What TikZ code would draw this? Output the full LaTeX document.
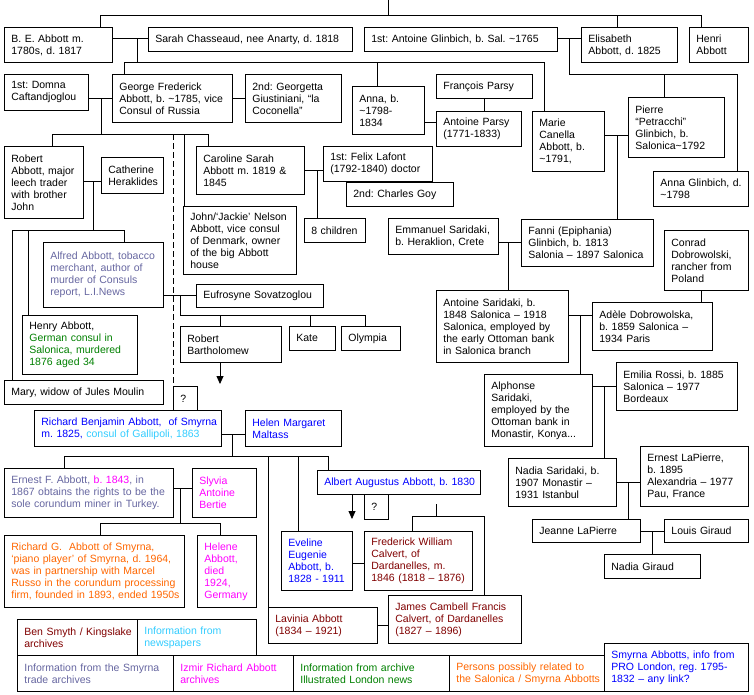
\documentclass[tikz,border=0pt]{standalone}
\usepackage{fontspec}
\setmainfont{Liberation Sans}
\usetikzlibrary{arrows.meta,positioning}

\definecolor{kingred}{RGB}{128,0,0}
\definecolor{newscyan}{RGB}{51,204,255}
\definecolor{tradegrey}{RGB}{102,102,160}
\definecolor{izmirpink}{RGB}{255,0,255}
\definecolor{londongreen}{RGB}{0,128,0}
\definecolor{relorange}{RGB}{255,102,0}
\definecolor{problue}{RGB}{0,0,255}

\tikzset{
  person/.style={draw, anchor=north west, align=left, inner sep=0pt,
    font=\fontsize{10.5}{12}\selectfont\frenchspacing,
    execute at begin node={\leftskip=6pt\relax}},
  boxsize/.style 2 args={minimum width=#1, minimum height=#2, text width=#1-2},
  lineage/.style={-{Triangle[width=7pt,length=8pt]}},
  unsure/.style={dash pattern=on 6pt off 3pt},
}

\begin{document}
\begin{tikzpicture}[x=1pt, y=-1pt, line width=0.8pt]
\useasboundingbox (0,0) rectangle (754,694);

% first generation
\node[person, boxsize={108}{35}] (beabbott) at (4,27) {B. E. Abbott m.\\1780s, d. 1817};
\node[person, boxsize={204}{24}] (sarah) at (148,27) {Sarah Chasseaud, nee Anarty, d. 1818};
\node[person, boxsize={193}{24}] (antglin) at (364,27) {1st: Antoine Glinbich, b. Sal. \textasciitilde1765};
\node[person, boxsize={96}{35}] (elisabeth) at (581,27) {Elisabeth\\Abbott, d. 1825};
\node[person, boxsize={59}{35}] (henri) at (689,27) {Henri\\Abbott};

% second generation
\node[person, boxsize={84}{36}] (domna) at (4,74) {1st: Domna\\Caftandjoglou};
\node[person, boxsize={120}{48}] (george) at (112,74) {George Frederick\\Abbott, b. \textasciitilde1785, vice\\Consul of Russia};
\node[person, boxsize={96}{48}] (georgetta) at (245,74) {2nd: Georgetta\\Giustiniani, “la\\Coconella”};
\node[person, boxsize={72}{48}] (anna) at (352,86) {Anna, b.\\\textasciitilde1798-\\1834};
\node[person, boxsize={96}{24}] (francois) at (436,74) {François Parsy};
\node[person, boxsize={85}{35}] (antparsy) at (436,111) {Antoine Parsy\\(1771-1833)};
\node[person, boxsize={72}{60}] (marie) at (532,111) {Marie\\Canella\\Abbott, b.\\\textasciitilde1791,};
\node[person, boxsize={96}{60}] (pierre) at (628,97) {Pierre\\“Petracchi”\\Glinbich, b.\\Salonica\textasciitilde1792};
\node[person, boxsize={95}{35}] (annaglin) at (653,171) {Anna Glinbich, d.\\\textasciitilde1798};

% third generation
\node[person, boxsize={79}{72}] (robert) at (4,146) {Robert\\Abbott, major\\leech trader\\with brother\\John};
\node[person, boxsize={62}{36}] (catherine) at (101,157) {Catherine\\Heraklides};
\node[person, boxsize={108}{48}] (caroline) at (196,146) {Caroline Sarah\\Abbott m. 1819 \&\\1845};
\node[person, boxsize={109}{35}] (felix) at (323,146) {1st: Felix Lafont\\(1792-1840) doctor};
\node[person, boxsize={107}{24}] (goy) at (346,182) {2nd: Charles Goy};
\node[person, boxsize={113}{68}] (john) at (183,206) {John/‘Jackie’ Nelson\\Abbott, vice consul\\of Denmark, owner\\of the big Abbott\\house};
\node[person, boxsize={61}{24}] (eightch) at (304,218) {8 children};
\node[person, boxsize={110}{36}] (emmanuel) at (388,218) {Emmanuel Saridaki,\\b. Heraklion, Crete};
\node[person, boxsize={132}{47}] (fanni) at (521,219) {Fanni (Epiphania)\\Glinbich, b. 1813\\Salonia – 1897 Salonica};
\node[person, boxsize={84}{60}] (conrad) at (664,230) {Conrad\\Dobrowolski,\\rancher from\\Poland};

% fourth generation
\node[person, boxsize={120}{65}, text=tradegrey] (alfred) at (43,242) {Alfred Abbott, tobacco\\merchant, author of\\murder of Consuls\\report, L.I.News};
\node[person, boxsize={127}{23}] (eufrosyne) at (196,284) {Eufrosyne Sovatzoglou};
\node[person, boxsize={132}{72}] (antsar) at (436,290) {Antoine Saridaki, b.\\1848 Salonica – 1918\\Salonica, employed by\\the early Ottoman bank\\in Salonica branch};
\node[person, boxsize={120}{48}] (adele) at (592,302) {Adèle Dobrowolska,\\b. 1859 Salonica –\\1934 Paris};
\node[person, boxsize={115}{59}] (henry) at (22,315) {Henry Abbott,\\\textcolor{londongreen}{German consul in}\\\textcolor{londongreen}{Salonica, murdered}\\\textcolor{londongreen}{1876 aged 34}};
\node[person, boxsize={101}{36}] (robbar) at (180,326) {Robert\\Bartholomew};
\node[person, boxsize={46}{24}] (kate) at (289,326) {Kate};
\node[person, boxsize={59}{24}] (olympia) at (341,326) {Olympia};
\node[person, boxsize={159}{24}] (mary) at (4,380) {Mary, widow of Jules Moulin};
\node[person, boxsize={24}{24}] (q1) at (173,386) {?};
\node[person, boxsize={108}{72}] (alphonse) at (484,374) {Alphonse\\Saridaki,\\employed by the\\Ottoman bank in\\Monastir, Konya...};
\node[person, boxsize={121}{48}] (emilia) at (616,362) {Emilia Rossi, b. 1885\\Salonica – 1977\\Bordeaux};

% fifth generation
\node[person, boxsize={187}{36}, text=problue] (richardb) at (34,410) {Richard Benjamin Abbott,\ \ of Smyrna\\m. 1825, \textcolor{newscyan}{consul of Gallipoli, 1863}};
\node[person, boxsize={96}{36}, text=problue] (helen) at (245,410) {Helen Margaret\\Maltass};
\node[person, boxsize={108}{48}] (nadia) at (508,458) {Nadia Saridaki, b.\\1907 Monastir –\\1931 Istanbul};
\node[person, boxsize={108}{60}] (ernestlp) at (640,446) {Ernest LaPierre,\\b. 1895\\Alexandria – 1977\\Pau, France};
\node[person, boxsize={169}{49}, text=tradegrey] (ernestf) at (4,468) {Ernest F. Abbott, \textcolor{izmirpink}{b. 1843}, in\\1867 obtains the rights to be the\\sole corundum miner in Turkey.};
\node[person, boxsize={64}{49}, text=izmirpink] (slyvia) at (192,468) {Slyvia\\Antoine\\Bertie};
\node[person, boxsize={163}{24}, text=problue] (albert) at (317,470) {Albert Augustus Abbott, b. 1830};
\node[person, boxsize={24}{25}] (q2) at (364,494) {?};
\node[person, boxsize={108}{23}] (jeanne) at (532,519) {Jeanne LaPierre};
\node[person, boxsize={84}{23}] (louis) at (664,519) {Louis Giraud};
\node[person, boxsize={180}{72}, text=relorange] (richardg) at (4,535) {Richard G.\ \ Abbott of Smyrna,\\‘piano player’ of Smyrna, d. 1964,\\was in partnership with Marcel\\Russo in the corundum processing\\firm, founded in 1893, ended 1950s};
\node[person, boxsize={59}{72}, text=izmirpink] (helene) at (197,535) {Helene\\Abbott,\\died\\1924,\\Germany};
\node[person, boxsize={71}{59}, text=problue] (eveline) at (281,531) {Eveline\\Eugenie\\Abbott, b.\\1828 - 1911};
\node[person, boxsize={108}{59}, text=kingred] (frederick) at (364,531) {Frederick William\\Calvert, of\\Dardanelles, m.\\1846 (1818 – 1876)};
\node[person, boxsize={96}{24}] (nadiag) at (604,554) {Nadia Giraud};
\node[person, boxsize={109}{36}, text=kingred] (lavinia) at (268,607) {Lavinia Abbott\\(1834 – 1921)};
\node[person, boxsize={133}{48}, text=kingred] (james) at (388,595) {James Cambell Francis\\Calvert, of Dardanelles\\(1827 – 1896)};

% legend
\node[person, boxsize={120}{36}, text=kingred] (legking) at (17,619) {Ben Smyth / Kingslake\\archives};
\node[person, boxsize={119}{36}, text=newscyan] (legnews) at (137,619) {Information from\\newspapers};
\node[person, boxsize={156}{36}, text=tradegrey] (legtrade) at (17,655) {Information from the Smyrna\\trade archives};
\node[person, boxsize={120}{36}, text=izmirpink] (legizmir) at (173,655) {Izmir Richard Abbott\\archives};
\node[person, boxsize={156}{36}, text=londongreen] (leglondon) at (293,655) {Information from archive\\Illustrated London news};
\node[person, boxsize={155}{36}, text=relorange] (legrelated) at (449,655) {Persons possibly related to\\the Salonica / Smyrna Abbotts};
\node[person, boxsize={144}{48}, text=problue] (legpro) at (604,643) {Smyrna Abbotts, info from\\PRO London, reg. 1795-\\1832 – any link?};

% free ends
\coordinate (parents) at (388,0);
\coordinate (bartdesc) at (220,384);
\coordinate (albertdesc) at (352,519);
\coordinate (calverts) at (436,504);

% Abbott line
\draw (parents) -- (388,15);
\draw (100,15 |- beabbott.north) |- (701,15) -- (701,15 |- henri.north);
\draw (617,15) -- (617,15 |- elisabeth.north);
\draw (beabbott.east |- 0,38) -- (sarah.west |- 0,38);
\draw (137,38) -- (137,62);
\draw (124,62 |- george.north) |- (544,62) -- (544,62 |- marie.north);
\draw (377,62) -- (377,62 |- anna.north);

% Glinbich line
\draw (antglin.east |- 0,38) -- (elisabeth.west |- 0,38);
\draw (569,38) |- (737,74) -- (737,74 |- annaglin.north);
\draw (664,74) -- (664,74 |- pierre.north);
\draw (marie.east |- 0,135) -- (pierre.west |- 0,135);
\draw (617,135) -- (617,135 |- fanni.north);

% George Frederick
\draw (domna.east |- 0,98) -- (george.west |- 0,98);
\draw (george.east |- 0,98) -- (georgetta.west |- 0,98);
\draw (101,98) -- (101,134);
\draw (52,134 |- robert.north) |- (208,134) -- (208,134 |- caroline.north);
\draw (184,134) -- (184,134 |- john.north);
\draw[unsure] (173,134) -- (173,134 |- q1.north);

% Parsy
\draw (francois.south -| 484,0) -- (484,0 |- antparsy.north);
\draw (anna.east |- 0,122) -- (antparsy.west |- 0,122);

% Caroline
\draw (caroline.east |- 0,170) -- (felix.west |- 0,170);
\draw (317,170) -- (317,170 |- eightch.north);

% Robert
\draw (robert.east |- 0,181) -- (catherine.west |- 0,181);
\draw (93,181) -- (93,230);
\draw (12,230 |- mary.north) |- (124,230) -- (124,230 |- alfred.north);
\draw (28,230) -- (28,230 |- henry.north);

% Alfred
\draw (alfred.east |- 0,295) -- (eufrosyne.west |- 0,295);
\draw (180,295) |- (365,315) -- (365,315 |- olympia.north);
\draw (220,315) -- (220,315 |- robbar.north);
\draw (310,315) -- (310,315 |- kate.north);
\draw[lineage] (robbar.south -| 220,0) -- (bartdesc);

% Saridaki
\draw (emmanuel.east |- 0,242) -- (fanni.west |- 0,242);
\draw (508,242) -- (508,242 |- antsar.north);
\draw (conrad.south -| 701,0) -- (701,0 |- adele.north);
\draw (antsar.east |- 0,315) -- (adele.west |- 0,315);
\draw (580,315) -- (580,315 |- alphonse.north);
\draw (alphonse.east |- 0,386) -- (emilia.west |- 0,386);
\draw (604,386) -- (604,386 |- nadia.north);
\draw (nadia.east |- 0,482) -- (ernestlp.west |- 0,482);
\draw (628,482) -- (628,482 |- jeanne.north);
\draw (jeanne.east |- 0,531) -- (louis.west |- 0,531);
\draw (652,531) -- (652,531 |- nadiag.north);

% Richard Benjamin
\draw (richardb.east |- 0,434) -- (helen.west |- 0,434);
\draw (232,434) -- (232,456);
\draw (64,456 |- ernestf.north) |- (328,456) -- (328,456 |- albert.north);
\draw (268,456) -- (268,456 |- lavinia.north);
\draw (298,456) -- (298,456 |- eveline.north);
\draw (ernestf.east |- 0,488) -- (slyvia.west |- 0,488);
\draw (180,488) -- (180,523);
\draw (100,523 |- richardg.north) |- (220,523) -- (220,523 |- helene.north);
\draw[lineage] (albert.south -| 352,0) -- (albertdesc);

% Calvert
\draw (calverts) -- (436,516);
\draw (412,516 |- frederick.north) |- (484,516) -- (484,516 |- james.north);
\draw (eveline.east |- 0,563) -- (frederick.west |- 0,563);
\draw (lavinia.east |- 0,625) -- (james.west |- 0,625);
\end{tikzpicture}
\end{document}
